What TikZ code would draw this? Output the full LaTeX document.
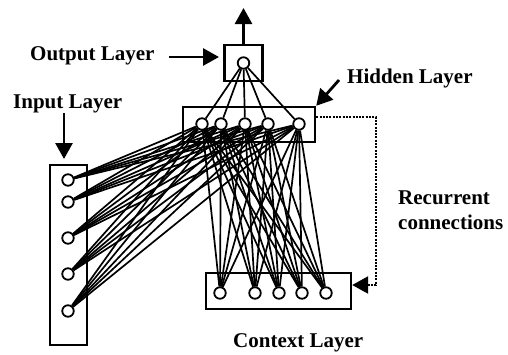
\documentclass[tikz,border=0pt]{standalone}
\usepackage{fontspec}
\setmainfont{Liberation Serif}
\usetikzlibrary{arrows.meta}
\begin{document}
\begin{tikzpicture}[x=1pt,y=1pt,
  unit/.style={circle,draw,line width=1.8pt,fill=white,minimum size=11.5pt,inner sep=0pt},
  layerbox/.style={draw,line width=2.4pt,inner sep=0pt},
  link/.style={line width=1.7pt},
  lbl/.style={font=\fontsize{21}{25}\selectfont\bfseries,inner sep=0pt,anchor=base west},
  headtip/.style={-{Triangle[length=16pt,width=17pt]}},
  bigarrow/.style={line width=2.8pt,headtip}
]
\useasboundingbox (0,0) rectangle (508,-354);

% layer boxes
\node[layerbox,minimum width=38pt,minimum height=36pt] (obox) at (243.5,-63) {};
\node[layerbox,minimum width=132pt,minimum height=35pt] (hbox) at (249,-124.5) {};
\node[layerbox,minimum width=37pt,minimum height=180pt] (ibox) at (68.5,-255) {};
\node[layerbox,minimum width=145pt,minimum height=36pt] (cbox) at (278.5,-291) {};

% unit positions
\coordinate (po) at (243.5,-63);
\foreach \n/\x in {1/202,2/221,3/245,4/268,5/299} \coordinate (ph\n) at (\x,-124);
\foreach \n/\y in {1/180,2/202,3/238,4/274,5/311} \coordinate (pi\n) at (68,-\y);
\foreach \n/\x in {1/220,2/255,3/279,4/302,5/326} \coordinate (pc\n) at (\x,-293);

% units
\node[unit] (o) at (po) {};
\foreach \n in {1,...,5} {
  \node[unit] (h\n) at (ph\n) {};
  \node[unit] (i\n) at (pi\n) {};
  \node[unit] (c\n) at (pc\n) {};
}

% full connections
\foreach \a in {1,...,5} {
  \draw[link] (o) -- (h\a);
  \foreach \b in {1,...,5} {
    \draw[link] (i\a) -- (h\b);
    \draw[link] (h\a) -- (c\b);
  }
}

% output arrow
\coordinate (otop) at (243.5,-8);
\draw[bigarrow] (obox.north) -- (otop);

% recurrent copy from hidden to context layer
\coordinate (r1) at (376,-117);
\coordinate (r2) at (376,-285);
\draw[line width=2.4pt,dash pattern=on 2pt off 1.3pt]
  ([yshift=7.5pt]hbox.east) -- (r1) -- (r2) -- ([xshift=16pt,yshift=6pt]cbox.east);
\draw[headtip,line width=2.4pt] ([xshift=16pt,yshift=6pt]cbox.east) -- ([yshift=6pt]cbox.east);

% labels
\node[lbl] (tout) at (30,-60) {Output Layer};
\node[lbl] (tin) at (13,-108) {Input Layer};
\node[lbl] (thid) at (347,-83) {Hidden Layer};
\node[lbl] (trec1) at (398,-204) {Recurrent};
\node[lbl] (trec2) at (398,-229) {connections};
\node[lbl] (tctx) at (233,-347) {Context Layer};

% label pointers
\coordinate (a1s) at (169,-57);
\coordinate (a1e) at (219,-57);
\draw[bigarrow] (a1s) -- (a1e);
\coordinate (a2s) at (64,-113);
\coordinate (a2e) at (64,-159);
\draw[bigarrow] (a2s) -- (a2e);
\coordinate (a3s) at (339,-80);
\draw[bigarrow] (a3s) -- (hbox.north east);
\end{tikzpicture}
\end{document}
